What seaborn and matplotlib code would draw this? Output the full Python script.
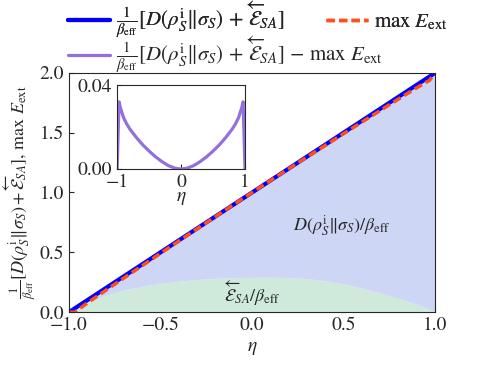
import numpy as np
import pandas as pd
import seaborn as sns
import matplotlib.pyplot as plt

sns.set_style("ticks")
plt.rcParams["font.family"] = ["STIXGeneral", "DejaVu Serif"]
plt.rcParams["mathtext.fontset"] = "stix"
plt.rcParams["xtick.direction"] = "in"
plt.rcParams["ytick.direction"] = "in"

# values
eta = [-1.0, -0.97, -0.95, -0.9, -0.85, -0.8, -0.7, -0.6, -0.5, -0.4, -0.3, -0.2, -0.1, -0.05, 0.0,
       0.05, 0.1, 0.2, 0.3, 0.4, 0.5, 0.6, 0.7, 0.8, 0.85, 0.9, 0.95, 0.97, 1.0]
total = [0.0, 0.03, 0.05, 0.1, 0.15, 0.2, 0.3, 0.4, 0.5, 0.6, 0.7, 0.8, 0.9, 0.95, 1.0,
         1.05, 1.1, 1.2, 1.3, 1.4, 1.5, 1.6, 1.7, 1.8, 1.85, 1.9, 1.95, 1.97, 2.0]
diff = [0.0, 0.032, 0.0293, 0.0245, 0.0214, 0.019, 0.015, 0.0115, 0.0085, 0.0058, 0.0035, 0.0016, 0.0004, 0.0001, 0.0,
        0.0001, 0.0004, 0.0016, 0.0035, 0.0058, 0.0085, 0.0115, 0.015, 0.019, 0.0214, 0.0245, 0.0293, 0.032, 0.0]
e_sa = [0.0, 0.025, 0.04, 0.085, 0.114, 0.14, 0.185, 0.215, 0.24, 0.258, 0.272, 0.282, 0.288, 0.289, 0.29,
        0.291, 0.291, 0.288, 0.28, 0.262, 0.235, 0.2, 0.16, 0.115, 0.09, 0.065, 0.035, 0.02, 0.0]

df = pd.DataFrame({"eta": eta, "total": total, "diff": diff, "esa": e_sa})
df["eext"] = df["total"] - df["diff"]

blue = "#0000ff"
orange = "#ff4f1a"
purple = "#9370db"
dash = (0, (2.4, 1.2))

fig = plt.figure(figsize=(4.9, 3.68), dpi=100)
ax = fig.add_axes([0.141, 0.152, 0.747, 0.650])

ax.fill_between(df["eta"], 0, df["esa"], color="#cfeadb", lw=0)
ax.fill_between(df["eta"], df["esa"], df["total"], color="#cdd6f4", lw=0)
sns.lineplot(data=df, x="eta", y="total", ax=ax, color=blue, lw=3)
sns.lineplot(data=df, x="eta", y="eext", ax=ax, color=orange, lw=2.5, linestyle=dash)

ax.set_xlim(-1, 1)
ax.set_ylim(0, 2)
ax.set_xticks([-1.0, -0.5, 0.0, 0.5, 1.0])
ax.set_yticks([0.0, 0.5, 1.0, 1.5, 2.0])
ax.tick_params(labelsize=14)
ax.set_xlabel(r"$\eta$", fontsize=14)
ax.set_ylabel(r"$\frac{1}{\beta_{\rm eff}}[D(\rho_S^{\rm i}\Vert\sigma_S)+\overleftarrow{\mathcal{E}}_{SA}]$, max $E_{\rm ext}$",
              fontsize=13, labelpad=1)

ax.text(0.49, 0.72, r"$D(\rho_S^{\rm i}\Vert\sigma_S)/\beta_{\rm eff}$", fontsize=13, ha="center", va="center")
ax.text(0.0, 0.16, r"$\overleftarrow{\mathcal{E}}_{SA}/\beta_{\rm eff}$", fontsize=13, ha="center", va="center")

# inset
ins = fig.add_axes([0.239, 0.541, 0.261, 0.228])
sns.lineplot(data=df, x="eta", y="diff", ax=ins, color=purple, lw=2.3)
ins.set_xlim(-1, 1)
ins.set_ylim(0, 0.04)
ins.set_xticks([-1, 0, 1])
ins.set_yticks([0.0, 0.04])
ins.set_yticklabels(["0.00", "0.04"])
ins.tick_params(labelsize=14)
ins.set_xlabel(r"$\eta$", fontsize=14, labelpad=-1)
ins.set_ylabel("")

lab_tot = r"$\frac{1}{\beta_{\rm eff}}[D(\rho_S^{\rm i}\Vert\sigma_S)\,+\,\overleftarrow{\mathcal{E}}_{SA}]$"
lab_diff = r"$\frac{1}{\beta_{\rm eff}}[D(\rho_S^{\rm i}\Vert\sigma_S)\,+\,\overleftarrow{\mathcal{E}}_{SA}]\,-\,\max\ E_{\rm ext}$"
lab_ext = r"$\max\ E_{\rm ext}$"

leg1 = fig.legend([plt.Line2D([], [], color=blue, lw=3),
                   plt.Line2D([], [], color=orange, lw=2.5, linestyle=dash)],
                  [lab_tot, lab_ext], loc="upper left", bbox_to_anchor=(0.139, 1.0), ncol=2,
                  frameon=False, fontsize=15, handlelength=2.0, columnspacing=2.0,
                  handletextpad=0.3, borderpad=0, borderaxespad=0)
fig.add_artist(leg1)
fig.legend([plt.Line2D([], [], color=purple, lw=2.3)], [lab_diff],
           loc="upper left", bbox_to_anchor=(0.139, 0.905), frameon=False, fontsize=15,
           handlelength=2.0, handletextpad=0.3, borderpad=0, borderaxespad=0)

fig.savefig("out.png", dpi=100)
